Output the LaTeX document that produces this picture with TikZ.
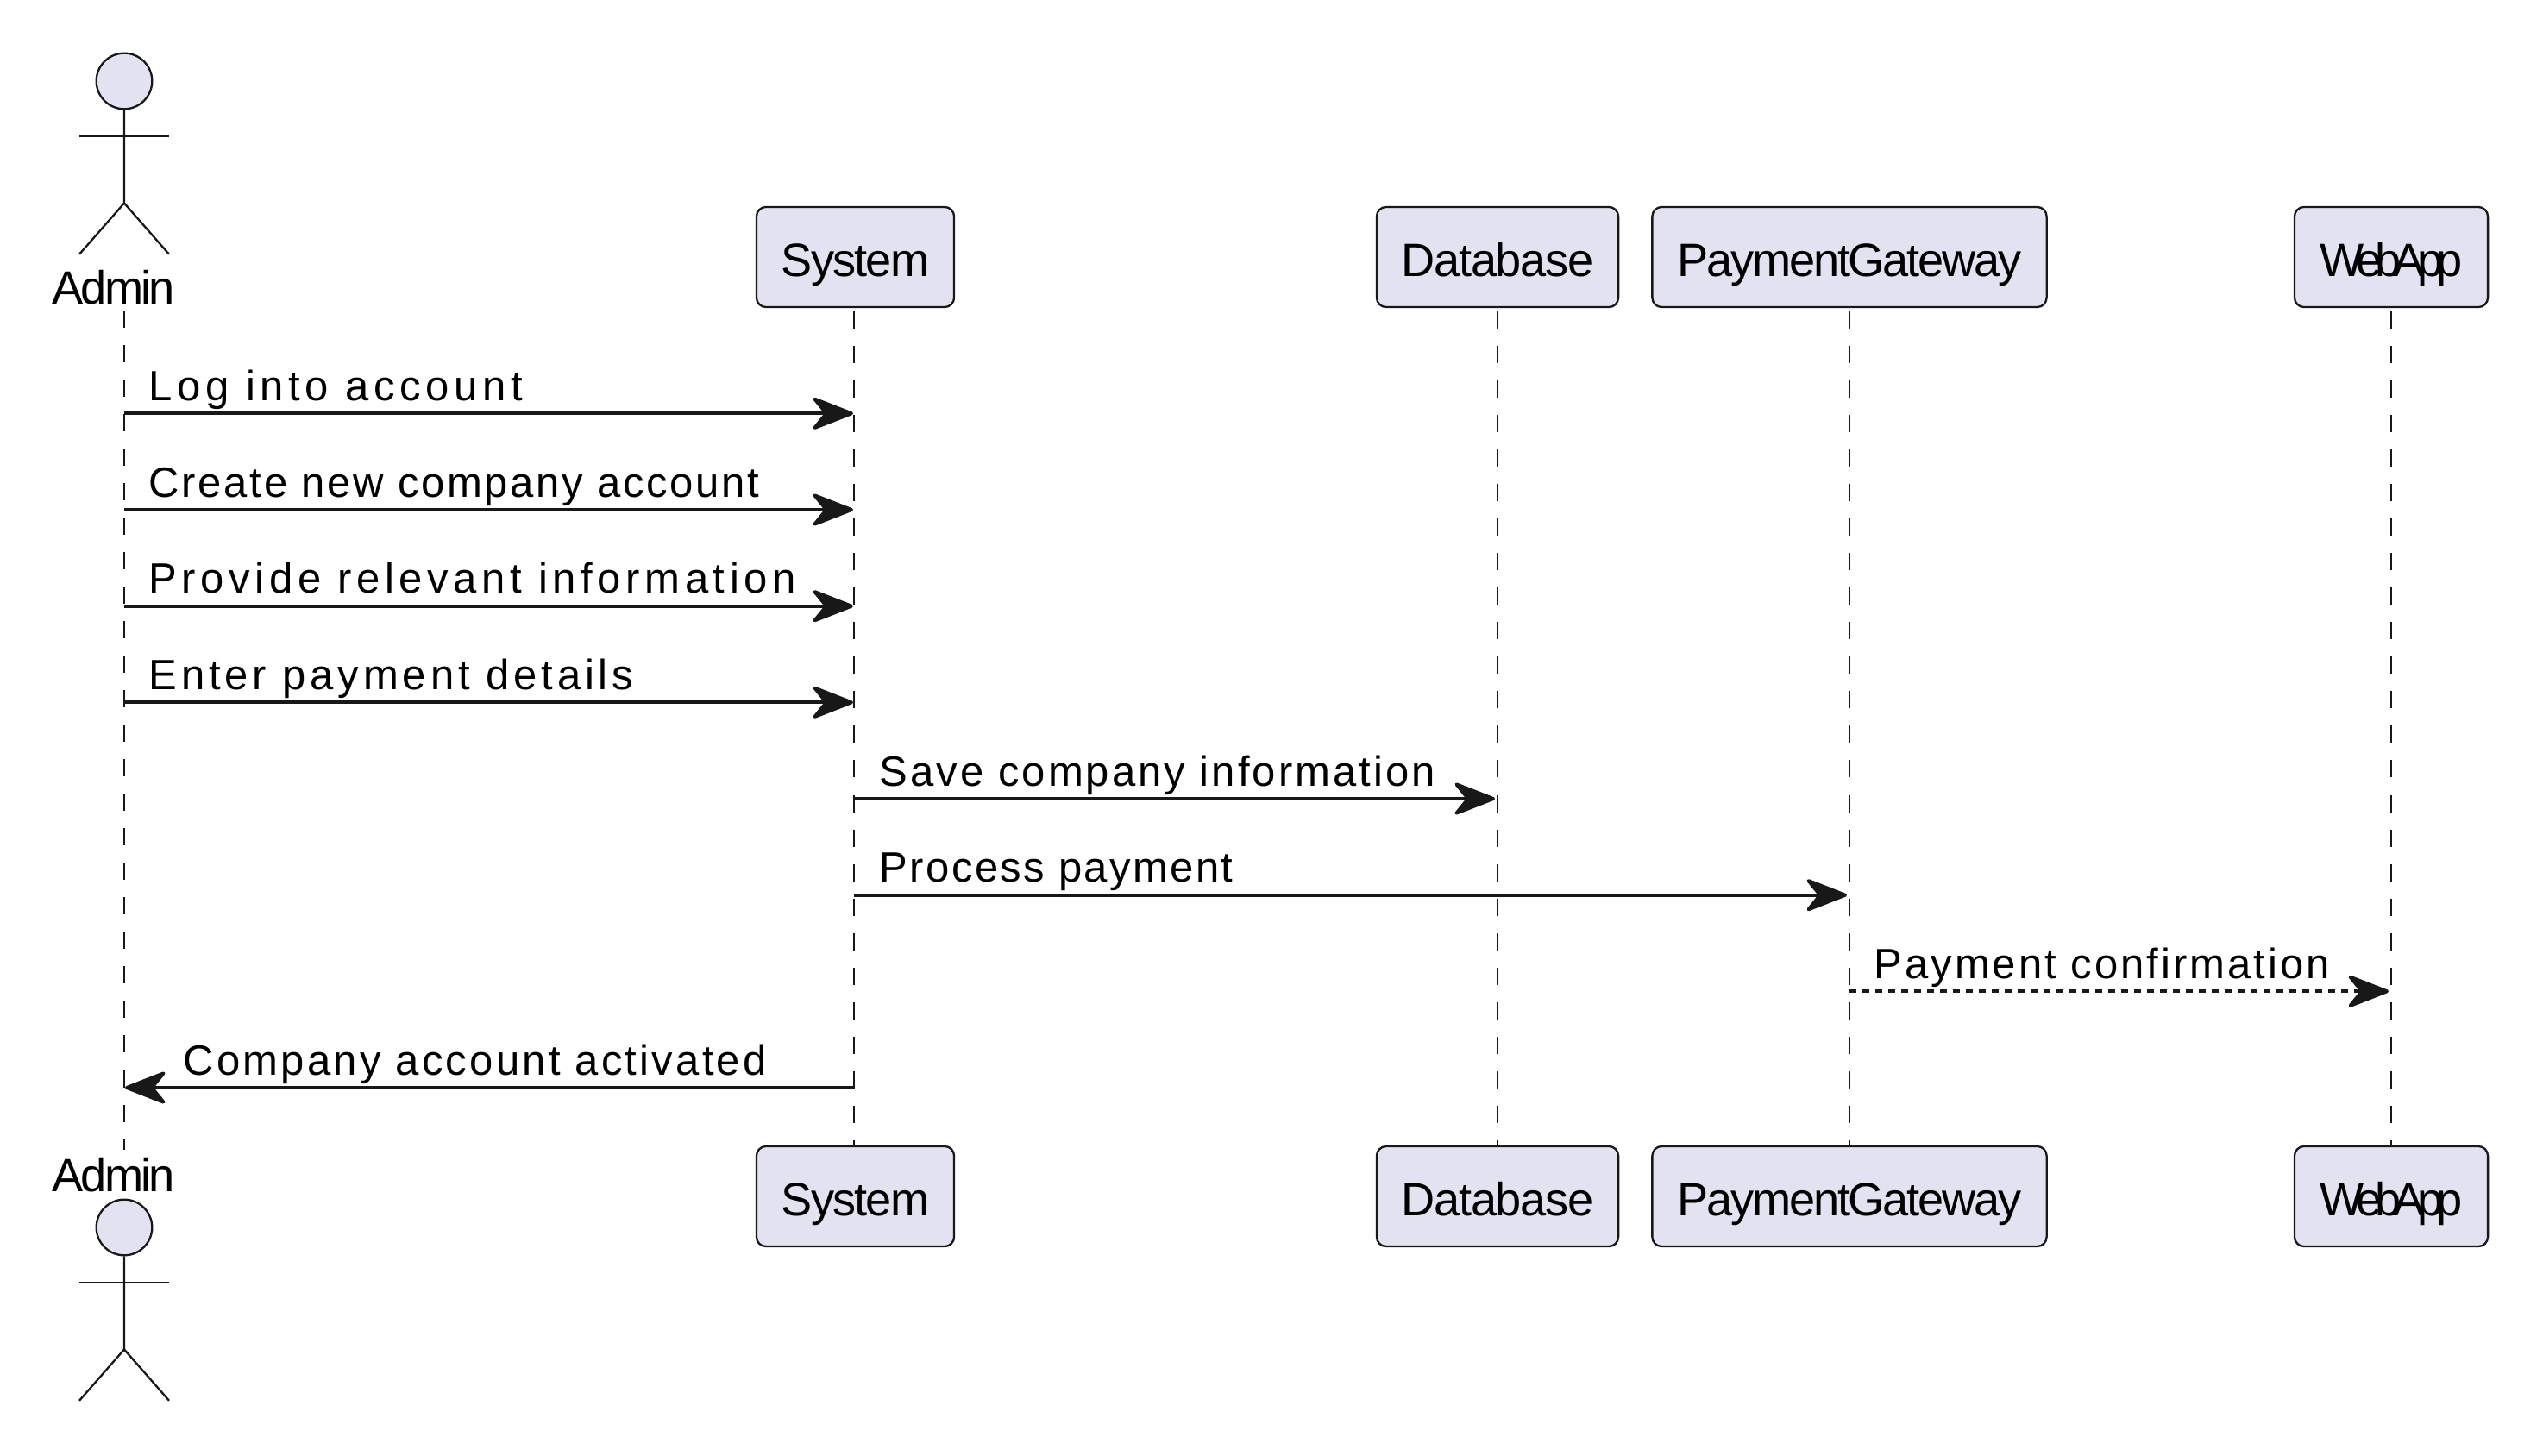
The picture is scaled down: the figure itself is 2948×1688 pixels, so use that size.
\documentclass[tikz,border=0pt]{standalone}
\usepackage{fontspec}
\usepackage{xcolor}
\usetikzlibrary{arrows.meta}
\setmainfont{Liberation Sans}
\definecolor{boxfill}{HTML}{E2E2F0}
\definecolor{ink}{HTML}{181818}
\newcommand{\lsp}[1]{\addfontfeature{LetterSpace=#1}}
\tikzset{
	participant/.style={draw=ink, line width=0.023cm, fill=boxfill, rounded corners=0.11cm, minimum height=1.16cm, inner sep=0pt, text height=0.44cm, text depth=0pt, font=\fontsize{15.4pt}{18pt}\selectfont},
	actorname/.style={anchor=base, inner sep=0pt, font=\fontsize{15.4pt}{18pt}\selectfont},
	actorhead/.style={circle, draw=ink, line width=0.023cm, fill=boxfill, minimum size=0.646cm, inner sep=0pt},
	actorline/.style={draw=ink, line width=0.023cm},
	lifeline/.style={draw=ink, line width=0.02cm, dash pattern=on 0.2cm off 0.2cm},
	msg/.style={draw=ink, line width=0.04cm, -{Stealth[length=0.54cm, width=0.42cm, inset=0.17cm, round]}},
	msgreply/.style={msg, dash pattern=on 0.075cm off 0.075cm},
	msglabel/.style={anchor=base west, inner sep=0pt, font=\fontsize{13.94pt}{17pt}\selectfont}
}
\begin{document}
\begin{tikzpicture}[x=0.01cm, y=-0.01cm]
	\useasboundingbox (0,0) rectangle (2948,1688);
	% lanes and rows
	\coordinate (xS) at (990,0);
	\coordinate (xD) at (1736,0);
	\coordinate (xP) at (2144,0);
	\coordinate (xW) at (2772,0);
	\coordinate (aStart) at (144,360);
	\coordinate (aEnd) at (144,1333);
	\foreach \n/\y in {1/479.3,2/591,3/702.7,4/814.3,5/926,6/1037.7,7/1149.3,8/1261}
		\coordinate (m\n) at (0,\y);
	% participants
	\node[actorname] (adminTop) at (131.5,352) {\lsp{-5}Admin};
	\node[actorname] (adminBot) at (131.5,1381) {\lsp{-5}Admin};
	\node[participant, minimum width=2.29cm] (sysTop) at (991.5,298) {\lsp{-3.4}System};
	\node[participant, minimum width=2.29cm] (sysBot) at (991.5,1387) {\lsp{-3.4}System};
	\node[participant, minimum width=2.8cm] (dbTop) at (1736,298) {\lsp{-2.3}Database};
	\node[participant, minimum width=2.8cm] (dbBot) at (1736,1387) {\lsp{-2.3}Database};
	\node[participant, minimum width=4.57cm] (payTop) at (2144,298) {\lsp{-4.1}PaymentGateway};
	\node[participant, minimum width=4.57cm] (payBot) at (2144,1387) {\lsp{-4.1}PaymentGateway};
	\node[participant, minimum width=2.24cm] (webTop) at (2772,298) {\lsp{-15.5}WebApp};
	\node[participant, minimum width=2.24cm] (webBot) at (2772,1387) {\lsp{-15.5}WebApp};
	% actors
	\node[actorhead] (headTop) at (144,94) {};
	\draw[actorline] (headTop.south) -- ++(0,108) -- ++(-52,59.3);
	\draw[actorline] (headTop.south) ++(0,108) -- ++(52,59.3);
	\draw[actorline] (92,157.7) -- (196,157.7);
	\node[actorhead] (headBot) at (144,1423) {};
	\draw[actorline] (headBot.south) -- ++(0,108) -- ++(-52,59.3);
	\draw[actorline] (headBot.south) ++(0,108) -- ++(52,59.3);
	\draw[actorline] (92,1486.7) -- (196,1486.7);
	% lifelines
	\draw[lifeline] (aStart) -- (aEnd);
	\draw[lifeline, shorten <=0.04cm] (xS |- sysTop.south) -- (xS |- sysBot.north);
	\draw[lifeline, shorten <=0.04cm] (xD |- dbTop.south) -- (xD |- dbBot.north);
	\draw[lifeline, shorten <=0.04cm] (xP |- payTop.south) -- (xP |- payBot.north);
	\draw[lifeline, shorten <=0.04cm] (xW |- webTop.south) -- (xW |- webBot.north);
	% messages
	\draw[msg, shorten >=0.01cm] (aStart |- m1) -- (xS |- m1);
	\draw[msg, shorten >=0.01cm] (aStart |- m2) -- (xS |- m2);
	\draw[msg, shorten >=0.01cm] (aStart |- m3) -- (xS |- m3);
	\draw[msg, shorten >=0.01cm] (aStart |- m4) -- (xS |- m4);
	\draw[msg, shorten >=0.03cm] (xS |- m5) -- (xD |- m5);
	\draw[msg, shorten >=0.03cm] (xS |- m6) -- (xP |- m6);
	\draw[msgreply, shorten >=0.03cm] (xP |- m7) -- (xW |- m7);
	\draw[msg, shorten >=0.01cm] (xS |- m8) -- (aStart |- m8);
	\node[msglabel] (l1) at (172,464.3) {\lsp{11.6}Log into account};
	\node[msglabel] (l2) at (172,576) {\lsp{5.5}Create new company account};
	\node[msglabel] (l3) at (172,687.7) {\lsp{11.4}Provide relevant information};
	\node[msglabel] (l4) at (172,799.3) {\lsp{9.9}Enter payment details};
	\node[msglabel] (l5) at (1019,911) {\lsp{6.2}Save company information};
	\node[msglabel] (l6) at (1019,1022.7) {\lsp{4.9}Process payment};
	\node[msglabel] (l7) at (2172,1134.3) {\lsp{6.1}Payment confirmation};
	\node[msglabel] (l8) at (212,1246) {\lsp{6.6}Company account activated};
\end{tikzpicture}
\end{document}
